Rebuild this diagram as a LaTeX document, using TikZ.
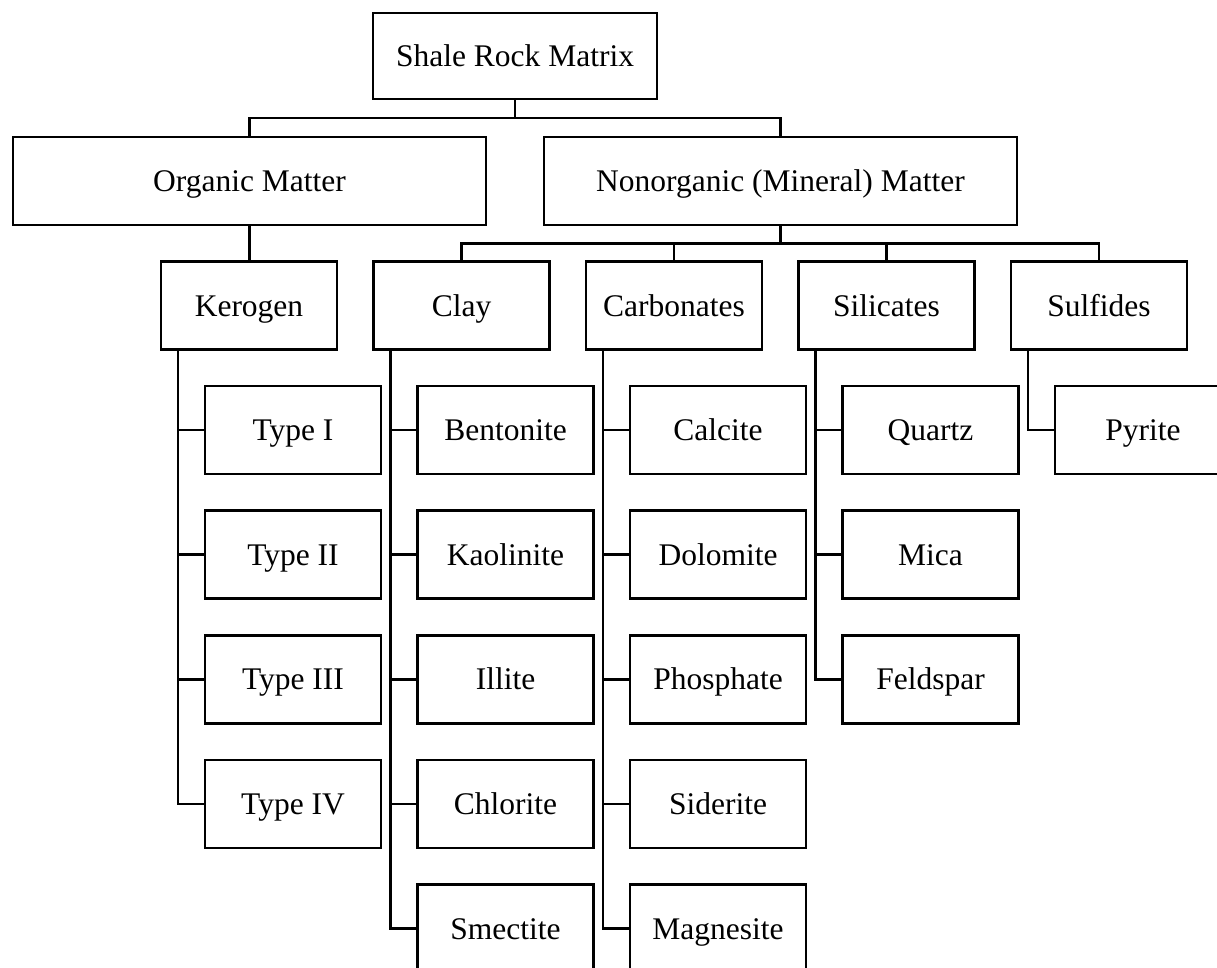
\documentclass[tikz,border=0pt]{standalone}
\usepackage{fontspec}
\setmainfont{Liberation Serif}
\newcommand\boxfont{\fontsize{31.5}{36}\selectfont}
\tikzset{
  box/.style={draw, line width=2.5pt, minimum width=176pt, minimum height=88pt, inner sep=0pt, text height=24pt, text depth=3pt, font=\boxfont},
  wide/.style={box, minimum width=473pt},
  wire/.style={line width=2.5pt}
}
\begin{document}
\begin{tikzpicture}[x=1pt,y=-1pt]
\useasboundingbox (0,0) rectangle (1217,968);
\clip (0,0) rectangle (1217,968);
\fill[white] (0,0) rectangle (1217,968);
% level 0 and 1
\node[box, minimum width=284pt, minimum height=86pt] (top) at (515,56) {Shale Rock Matrix};
\node[wide] (org) at (249.5,181) {Organic Matter};
\node[wide] (non) at (780.5,181) {Nonorganic (Mineral) Matter};
% level 2
\node[box] (ker) at (249,305.5) {Kerogen};
\node[box] (clay) at (461.5,305.5) {Clay};
\node[box] (carb) at (674,305.5) {Carbonates};
\node[box] (sil) at (886.5,305.5) {Silicates};
\node[box] (sul) at (1099,305.5) {Sulfides};
% kerogen children
\node[box] (t1) at (293,430) {Type I};
\node[box] (t2) at (293,554.7) {Type II};
\node[box] (t3) at (293,679.3) {Type III};
\node[box] (t4) at (293,804) {Type IV};
% clay children
\node[box] (c1) at (505.5,430) {Bentonite};
\node[box] (c2) at (505.5,554.7) {Kaolinite};
\node[box] (c3) at (505.5,679.3) {Illite};
\node[box] (c4) at (505.5,804) {Chlorite};
\node[box] (c5) at (505.5,928.7) {Smectite};
% carbonate children
\node[box] (k1) at (718,430) {Calcite};
\node[box] (k2) at (718,554.7) {Dolomite};
\node[box] (k3) at (718,679.3) {Phosphate};
\node[box] (k4) at (718,804) {Siderite};
\node[box] (k5) at (718,928.7) {Magnesite};
% silicate children
\node[box] (s1) at (930.5,430) {Quartz};
\node[box] (s2) at (930.5,554.7) {Mica};
\node[box] (s3) at (930.5,679.3) {Feldspar};
% sulfide children
\node[box] (p1) at (1143,430) {Pyrite};
% connectors top
\coordinate (j1) at (515,118);
\draw[wire] (top.south) -- (j1);
\draw[wire] (org.north) |- (j1) -| (non.north);
\draw[wire] (org.south) -- (org.south |- ker.north);
\coordinate (j2) at (780.5,243.3);
\draw[wire] (non.south) -- (j2);
\draw[wire] (clay.north) |- (j2) -| (sul.north);
\draw[wire] (carb.north) -- (carb.north |- j2);
\draw[wire] (sil.north) -- (sil.north |- j2);
% child rails
\coordinate (kv) at ([xshift=18pt]ker.south west);
\coordinate (cv) at ([xshift=18pt]clay.south west);
\coordinate (bv) at ([xshift=18pt]carb.south west);
\coordinate (sv) at ([xshift=18pt]sil.south west);
\coordinate (pv) at ([xshift=18pt]sul.south west);
\draw[wire] (kv) |- (t4.west);
\foreach \n in {t1,t2,t3} \draw[wire] (\n.west) -- (\n.west -| kv);
\draw[wire] (cv) |- (c5.west);
\foreach \n in {c1,c2,c3,c4} \draw[wire] (\n.west) -- (\n.west -| cv);
\draw[wire] (bv) |- (k5.west);
\foreach \n in {k1,k2,k3,k4} \draw[wire] (\n.west) -- (\n.west -| bv);
\draw[wire] (sv) |- (s3.west);
\foreach \n in {s1,s2} \draw[wire] (\n.west) -- (\n.west -| sv);
\draw[wire] (pv) |- (p1.west);
\end{tikzpicture}
\end{document}
